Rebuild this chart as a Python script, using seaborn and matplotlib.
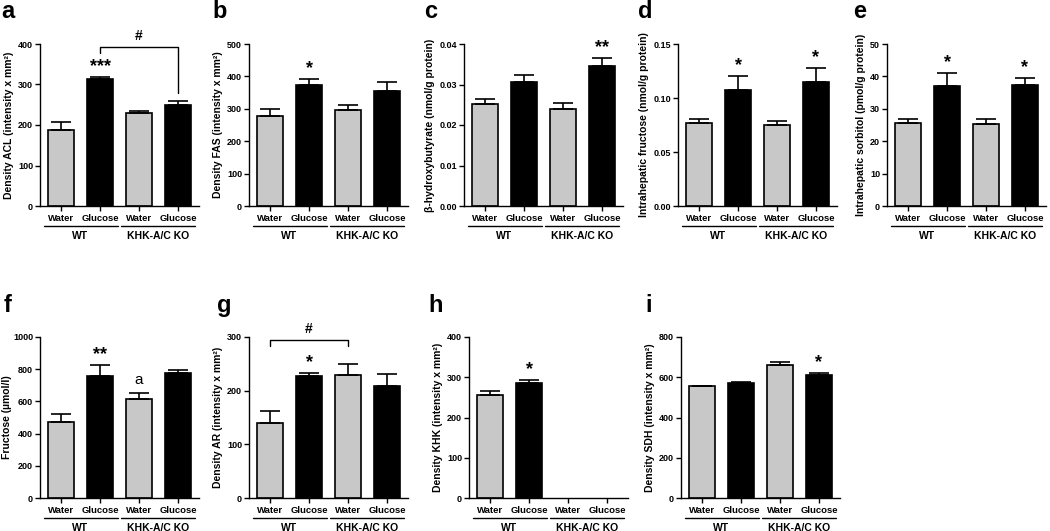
import numpy as np
import pandas as pd
import seaborn as sns
import matplotlib.pyplot as plt

# categories
drinks = ["Water", "Glucose", "Water", "Glucose"]
groups = ["WT", "KHK-A/C KO"]
bar_keys = ["WT Water", "WT Glucose", "KO Water", "KO Glucose"]
bar_colors = ["#c8c8c8", "#000000", "#c8c8c8", "#000000"]

# a - ACL
acl_mean = [188, 313, 230, 250]
acl_sem = [20, 6, 4, 9]
acl_marks = ["", "***", "", ""]
# b - FAS
fas_mean = [277, 372, 295, 355]
fas_sem = [22, 20, 18, 28]
fas_marks = ["", "*", "", ""]
# c - beta-hydroxybutyrate
bhb_mean = [0.0253, 0.0305, 0.0240, 0.0345]
bhb_sem = [0.0010, 0.0018, 0.0015, 0.0020]
bhb_marks = ["", "", "", "**"]
# d - intrahepatic fructose
ihf_mean = [0.077, 0.107, 0.075, 0.115]
ihf_sem = [0.004, 0.013, 0.004, 0.013]
ihf_marks = ["", "*", "", "*"]
# e - intrahepatic sorbitol
ihs_mean = [25.5, 37.0, 25.3, 37.3]
ihs_sem = [1.3, 4.0, 1.4, 2.2]
ihs_marks = ["", "*", "", "*"]
# f - fructose
fru_mean = [470, 760, 618, 775]
fru_sem = [50, 65, 35, 18]
fru_marks = ["", "**", "a", ""]
# g - AR
ar_mean = [140, 228, 230, 208]
ar_sem = [23, 5, 20, 23]
ar_marks = ["", "*", "", ""]
# h - KHK (not detected in KO)
khk_mean = [255, 285, np.nan, np.nan]
khk_sem = [10, 8, np.nan, np.nan]
khk_marks = ["", "*", "", ""]
# i - SDH
sdh_mean = [555, 570, 662, 612]
sdh_sem = [3, 5, 15, 8]
sdh_marks = ["", "", "", "*"]

panels = [
    dict(letter="a", mean=acl_mean, sem=acl_sem, marks=acl_marks, ymax=400, step=100, fmt="{:.0f}",
         ylabel="Density ACL (intensity x mm²)", bracket=(1, 3, 392, 378, 279)),
    dict(letter="b", mean=fas_mean, sem=fas_sem, marks=fas_marks, ymax=500, step=100, fmt="{:.0f}",
         ylabel="Density FAS (intensity x mm²)"),
    dict(letter="c", mean=bhb_mean, sem=bhb_sem, marks=bhb_marks, ymax=0.04, step=0.01, fmt="{:.2f}",
         ylabel="β-hydroxybutyrate (nmol/g protein)"),
    dict(letter="d", mean=ihf_mean, sem=ihf_sem, marks=ihf_marks, ymax=0.15, step=0.05, fmt="{:.2f}",
         ylabel="Intrahepatic fructose (nmol/g protein)"),
    dict(letter="e", mean=ihs_mean, sem=ihs_sem, marks=ihs_marks, ymax=50, step=10, fmt="{:.0f}",
         ylabel="Intrahepatic sorbitol (pmol/g protein)"),
    dict(letter="f", mean=fru_mean, sem=fru_sem, marks=fru_marks, ymax=1000, step=200, fmt="{:.0f}",
         ylabel="Fructose (µmol/l)", labelpad=0.5),
    dict(letter="g", mean=ar_mean, sem=ar_sem, marks=ar_marks, ymax=300, step=100, fmt="{:.0f}",
         ylabel="Density AR (intensity x mm²)", bracket=(0, 2, 295, 283, 283)),
    dict(letter="h", mean=khk_mean, sem=khk_sem, marks=khk_marks, ymax=400, step=100, fmt="{:.0f}",
         ylabel="Density KHK (intensity x mm²)"),
    dict(letter="i", mean=sdh_mean, sem=sdh_sem, marks=sdh_marks, ymax=800, step=200, fmt="{:.0f}",
         ylabel="Density SDH (intensity x mm²)"),
]

W, H = 1050, 531
# axes placement in pixels: left, top, bottom
top_row = [(40, 44, 206), (249, 44, 206), (464, 44, 206), (678, 44, 206), (887, 44, 206)]
bot_row = [(40, 337, 498), (249, 337, 498), (469, 337, 498), (681, 337, 498)]
letter_pos = [(1, 18), (212, 18), (424, 18), (638, 18), (853, 18),
              (4, 312), (217, 312), (428, 312), (645, 312)]
AX_W = 159

sns.set_style("ticks")
plt.rcParams["font.family"] = ["Liberation Sans", "DejaVu Sans"]
plt.rcParams["font.weight"] = "bold"
plt.rcParams["axes.labelweight"] = "bold"
for key in ["text.color", "axes.labelcolor", "axes.edgecolor", "xtick.color", "ytick.color"]:
    plt.rcParams[key] = "black"
plt.rcParams["axes.linewidth"] = 1.0
plt.rcParams["xtick.major.width"] = 1.0
plt.rcParams["ytick.major.width"] = 1.0
plt.rcParams["xtick.major.size"] = 3.5
plt.rcParams["ytick.major.size"] = 3.5

fig = plt.figure(figsize=(W / 100, H / 100), dpi=100)
palette = dict(zip(bar_keys, bar_colors))

for k, (p, pos) in enumerate(zip(panels, top_row + bot_row)):
    left, top, bottom = pos
    ax = fig.add_axes([left / W, 1 - bottom / H, AX_W / W, (bottom - top) / H])
    df = pd.DataFrame({"bar": bar_keys, "val": p["mean"]})
    sns.barplot(data=df, x="bar", y="val", hue="bar", palette=palette, order=bar_keys,
                hue_order=bar_keys, legend=False, errorbar=None, width=0.67,
                edgecolor="black", linewidth=1.2, ax=ax)
    mean = np.array(p["mean"], dtype=float)
    sem = np.array(p["sem"], dtype=float)
    ok = ~np.isnan(sem)
    xs = np.arange(4)[ok]
    ax.errorbar(xs, mean[ok], yerr=[np.zeros(ok.sum()), sem[ok]], fmt="none",
                ecolor="black", elinewidth=1.2, capsize=7, capthick=1.2, zorder=1)
    ax.set_xlim(-0.54, 3.54)
    ax.set_ylim(0, p["ymax"])
    ticks = np.arange(0, p["ymax"] + p["step"] / 2, p["step"])
    ax.set_yticks(ticks)
    ax.set_yticklabels([p["fmt"].format(t) for t in ticks], fontsize=6.5)
    ax.set_xticks(range(4))
    ax.set_xticklabels(drinks, fontsize=6.8)
    ax.tick_params(axis="x", pad=2)
    ax.tick_params(axis="y", pad=1.5)
    ax.set_xlabel("")
    ax.set_ylabel(p["ylabel"], fontsize=7.5, labelpad=p.get("labelpad", 3))
    sns.despine(ax=ax)

    # significance marks above the error bars
    tops = mean + np.nan_to_num(sem)
    for i, m in enumerate(p["marks"]):
        if not m:
            continue
        if m == "a":
            ax.annotate(m, (i, tops[i]), xytext=(0, 4), textcoords="offset points",
                        ha="center", va="bottom", fontsize=11, fontweight="normal")
        else:
            ax.annotate(m, (i, tops[i]), xytext=(0, 1.5), textcoords="offset points",
                        ha="center", va="bottom", fontsize=13)

    # comparison bracket
    if "bracket" in p:
        i0, i1, yb, l0, l1 = p["bracket"]
        ax.plot([i0, i0, i1, i1], [l0, yb, yb, l1], color="black", lw=1.0, clip_on=False)
        ax.annotate("#", ((i0 + i1) / 2, yb), xytext=(0, 3), textcoords="offset points",
                    ha="center", va="bottom", fontsize=10, annotation_clip=False)

    # group underlines and labels
    xt = ax.get_xaxis_transform()
    for g, name in enumerate(groups):
        c = 2 * g
        ax.plot([c - 0.45, c + 1.45], [-0.125, -0.125], transform=xt, color="black",
                lw=1.0, clip_on=False)
        ax.text(c + 0.5, -0.155, name, transform=xt, ha="center", va="top", fontsize=7.5)

    lx, ly = letter_pos[k]
    fig.text(lx / W, 1 - ly / H, p["letter"], fontsize=17, fontweight="bold", va="baseline")

fig.savefig("out.png", dpi=100)
